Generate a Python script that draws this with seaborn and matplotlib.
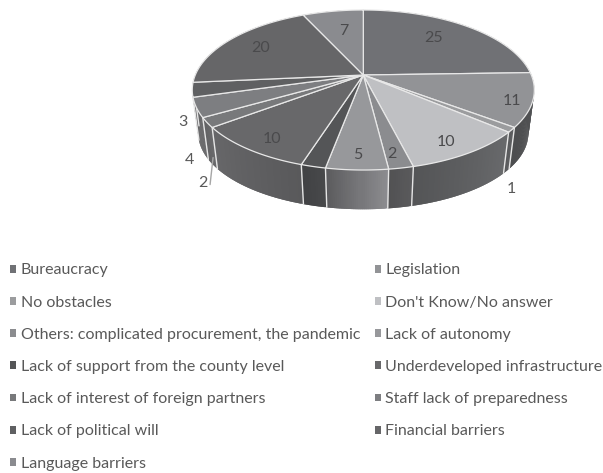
import numpy as np
import matplotlib
matplotlib.use("Agg")
import matplotlib.pyplot as plt
from matplotlib.collections import PolyCollection
from matplotlib.patches import Patch
import seaborn as sns

labels = ["Bureaucracy", "Legislation", "No obstacles", "Don't Know/No answer",
          "Others: complicated procurement, the pandemic", "Lack of autonomy",
          "Lack of support from the county level", "Underdeveloped infrastructure",
          "Lack of interest of foreign partners", "Staff lack of preparedness",
          "Lack of political will", "Financial barriers", "Language barriers"]
values = [25, 11, 1, 10, 2, 5, 2, 10, 2, 4, 3, 20, 7]
colors = ["#707175", "#929396", "#9b9c9e", "#bfc0c3", "#8b8c8f", "#97989b", "#545557",
          "#68686a", "#78797b", "#7d7e81", "#5f6062", "#666668", "#8a8b8f"]
wall_colors = ["#555658", "#555658", "#606163", "#5f6062", "#5a5a5c", "#7a7a7d", "#47484a",
               "#5e5e60", "#6a6a6c", "#6a6a6c", "#555557", "#555557", "#707174"]
wall_shades = {3: (1.1, 0.88), 5: (1.15, 0.72), 7: (0.95, 1.1)}

# label placement: fraction of radius plus pixel nudge, the dark wedge next to 5 has no label
inside = {0: (0.78, -12, 2), 1: (0.83, 9, 6), 3: (0.72, 11, 14), 4: (0.78, 0, 10),
          5: (0.78, -1, 10), 7: (0.68, -18, 16), 11: (0.72, -5, -1), 12: (0.74, 4, 5)}
outside = {2: (0, 59), 8: (-4, 60), 9: (-7, 53), 10: (-9, 32)}

cx, cy = 363.3, 75
R, B, p = 168, 77.2, 0.1875


def project(theta, r=1.0):
    ux, uy = r * np.sin(theta), r * np.cos(theta)
    w = 1 + p * uy
    return R * ux / w, -B * uy / w


def top(theta, r=1.0):
    x, y = project(theta, r)
    return cx + x, cy + y


def bottom(theta):
    x, y = project(theta)
    return cx + 0.965 * x, cy + 44 + 0.95 * y


sns.set_theme(style="white")
plt.rcParams["font.family"] = ["Lato", "DejaVu Sans"]
palette = sns.color_palette(colors)
walls = sns.color_palette(wall_colors)

fig, ax = plt.subplots(figsize=(6.03, 4.73), dpi=100)
fig.subplots_adjust(0, 0, 1, 1)
ax.set_xlim(0, 603)
ax.set_ylim(473, 0)
ax.axis("off")

frac = np.cumsum([0] + values) / sum(values)
angles = frac * 2 * np.pi

# walls, built from thin overlapping strips for the shading
strips, strip_cols = [], []
for i in range(len(values)):
    ts = np.linspace(angles[i], angles[i + 1], max(4, int(values[i] * 6)))
    s0, s1 = wall_shades.get(i, (1.0, 0.9))
    for a, b in zip(ts[:-1], ts[1:]):
        s = (a - angles[i]) / max(angles[i + 1] - angles[i], 1e-6)
        shade = s0 + (s1 - s0) * s
        b2 = min(b + 0.012, angles[i + 1])
        strips.append([top(a), top(b2), bottom(b2), bottom(a)])
        strip_cols.append(tuple(min(1, c * shade) for c in walls[i]))
order = np.argsort([q[0][1] for q in strips])
pc = PolyCollection([strips[k] for k in order], facecolors=[strip_cols[k] for k in order],
                    edgecolors="none", zorder=1)
ax.add_collection(pc)

# white joins down the front wall
for a in angles[:-1]:
    if np.cos(a) < 0:
        ax.plot(*zip(top(a), bottom(a)), color="#e6e6e6", lw=1.0, zorder=2)

# top face
for i in range(len(values)):
    ts = np.linspace(angles[i], angles[i + 1], 80)
    pts = [(cx, cy)] + [top(t) for t in ts]
    ax.fill(*zip(*pts), facecolor=palette[i], edgecolor="#e8e8e8", lw=0.9, zorder=3,
            joinstyle="round")

# value labels
for i, v in enumerate(values):
    mid = (angles[i] + angles[i + 1]) / 2
    if i in inside:
        f, dx, dy = inside[i]
        x, y = top(mid, f)
        ax.text(x + dx, y + dy, str(v), ha="center", va="center", fontsize=11.5,
                color="#4a4a4c", zorder=4)
    elif i in outside:
        x, y = top(mid)
        ax.text(x + outside[i][0], y + outside[i][1], str(v), ha="center", va="center",
                fontsize=11.5, color="#595959", zorder=4)

# leader line for the small 2
mid = (angles[8] + angles[9]) / 2
x, y = top(mid)
ax.plot([x + 6, x + 3], [y + 35, y + 62], color="#a6a6a6", lw=1, zorder=2)

handles = [Patch(facecolor=c, edgecolor="none") for c in palette]
left = list(range(0, 13, 2))
right = list(range(1, 13, 2))
idx = left + right
ax.legend([handles[k] for k in idx], [labels[k] for k in idx], ncols=2,
          loc="upper left", bbox_to_anchor=(-4, 249), bbox_transform=ax.transData,
          frameon=False, fontsize=11.5, labelcolor="#595959", handlelength=0.38, handleheight=0.38,
          handletextpad=0.26, labelspacing=1.14, columnspacing=0.93, borderpad=0.4)

fig.savefig("out.png", dpi=100)
